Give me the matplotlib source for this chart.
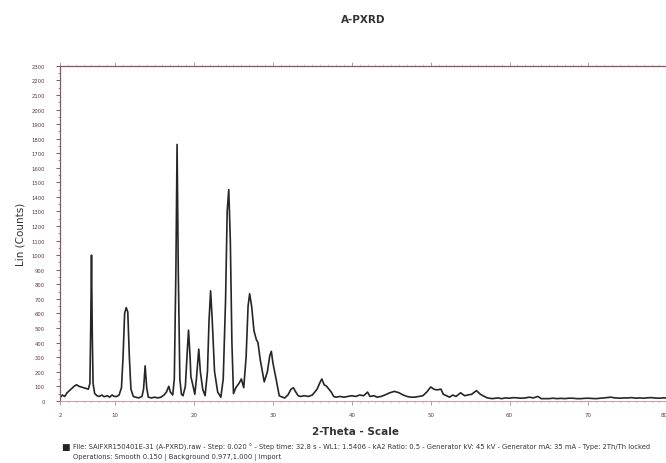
import matplotlib.pyplot as plt
from matplotlib.ticker import MultipleLocator

# diffractogram trace, 2-theta (deg) vs intensity (counts)
two_theta = [
    3.0, 3.3, 3.6, 3.9, 4.2, 4.5, 4.8, 5.1, 5.4, 5.7, 6.0, 6.3, 6.6,
    6.8, 6.9, 7.0, 7.1, 7.2, 7.4,
    7.7, 8.0, 8.3, 8.6, 9.0, 9.3, 9.6, 9.9, 10.2, 10.5,
    10.8, 11.0, 11.2, 11.4, 11.6, 11.8, 12.0, 12.3,
    12.6, 13.0, 13.4,
    13.6, 13.8, 14.0, 14.2,
    14.6, 15.0, 15.4, 15.8, 16.2,
    16.5, 16.8, 17.0, 17.3,
    17.5, 17.7, 17.85, 18.0, 18.2, 18.4, 18.6,
    18.9, 19.1, 19.3, 19.5, 19.6, 19.8, 20.1,
    20.3, 20.6, 20.8, 21.1, 21.4,
    21.7, 21.9, 22.1, 22.3, 22.6, 23.0, 23.4,
    23.7, 24.0, 24.2, 24.4, 24.6, 24.8, 25.0,
    25.3, 25.7, 26.0, 26.3,
    26.6, 26.85, 27.05, 27.3, 27.6, 27.9, 28.1, 28.4, 28.9,
    29.3, 29.6, 29.8, 30.0, 30.4, 30.8, 31.2, 31.5,
    31.9, 32.3, 32.6, 32.9, 33.2, 33.5, 34.0, 34.5, 35.0,
    35.6, 36.0, 36.2, 36.5, 36.8, 37.1, 37.4, 37.7,
    38.0, 38.5, 39.0, 39.5, 40.0, 40.5, 41.0, 41.5, 42.0, 42.3,
    42.8, 43.2, 43.7, 44.2, 44.8, 45.4, 46.0, 46.5, 47.0, 47.5,
    48.0, 48.5, 49.0, 49.5, 50.0, 50.4, 50.8, 51.3, 51.6, 52.0,
    52.4, 52.8, 53.2, 53.8, 54.3, 54.7, 55.2, 55.8, 56.3, 56.8,
    57.2, 57.8, 58.5, 59.0, 59.5, 60.0, 60.5, 61.0, 61.5, 62.0,
    62.5, 63.0, 63.6, 64.0, 64.5, 65.0, 65.5, 66.0, 66.5, 67.0,
    67.5, 68.0, 68.5, 69.0, 69.5, 70.0, 70.5, 71.0, 71.5, 72.0,
    72.8, 73.4, 74.0, 74.5, 75.0, 75.5, 76.0, 76.5, 77.0, 77.5,
    78.0, 78.5, 79.0, 79.5, 80.0,
]
counts = [
    20, 40, 30, 55, 70, 85, 100, 110, 100, 95, 90, 85, 80,
    120, 500, 1000, 450, 120, 50,
    35, 30, 40, 28, 35, 25, 40, 30, 30, 40,
    90, 300, 600, 640, 610, 300, 80, 30,
    25, 20, 30,
    80, 240, 90, 25,
    20, 25, 20, 25, 40,
    60, 100, 60, 40,
    150, 900, 1760, 900, 150, 45, 35,
    100, 300, 485, 300, 165, 120, 45,
    150, 355, 200, 80, 35,
    200, 550, 755, 560, 200, 60, 25,
    150, 700, 1300, 1450, 1100, 400, 50,
    90, 120, 150, 90,
    300, 650, 735, 650, 480, 420, 400, 280, 130,
    200, 310, 340, 260, 150, 35, 25, 20,
    40, 80, 90, 60, 35, 30, 35, 30, 40,
    80, 130, 150, 110, 100, 80, 60, 30,
    25, 30, 25, 30, 35, 30, 40, 35, 60, 30,
    35, 25, 30, 40, 55, 65, 55, 40, 30, 25,
    25, 30, 35, 60, 95, 80, 75, 80, 45, 35,
    25, 40, 30, 55, 35, 40, 45, 70, 45, 30,
    20, 15, 20, 15, 20, 18, 22, 20, 18, 20,
    25, 20, 30, 15, 15, 15, 18, 15, 17, 15,
    18, 18, 15, 15, 17, 18, 16, 15, 18, 20,
    25, 20, 18, 20, 20, 22, 18, 20, 18, 21,
    22, 19, 18, 20, 20,
]

x_ticks = [3, 10, 20, 30, 40, 50, 60, 70, 80]
x_tick_labels = ["2", "10", "20", "30", "40", "50", "60", "70", "80"]

footer_1 = ("File: SAIFXR150401E-31 (A-PXRD).raw - Step: 0.020 \u00b0 - Step time: 32.8 s - "
            "WL1: 1.5406 - kA2 Ratio: 0.5 - Generator kV: 45 kV - Generator mA: 35 mA - "
            "Type: 2Th/Th locked")
footer_2 = "Operations: Smooth 0.150 | Background 0.977,1.000 | Import"

axis_col = "#8a5566"
label_col = "#5a3a44"

fig = plt.figure(figsize=(6.66, 4.64), dpi=100)
ax = fig.add_axes([0.090, 0.134, 0.912, 0.722])

ax.plot(two_theta, counts, color="#262626", linewidth=1.2)

ax.set_xlim(3, 80)
ax.set_ylim(0, 2300)

ax.set_yticks(range(0, 2301, 100))
ax.yaxis.set_minor_locator(MultipleLocator(50))
ax.set_xticks(x_ticks)
ax.set_xticklabels(x_tick_labels)
ax.xaxis.set_minor_locator(MultipleLocator(1))
# last label sits on the figure edge
ax.get_xticklabels()[-1].set_horizontalalignment("right")

ax.tick_params(axis="y", which="major", direction="out", length=3, width=0.7,
               colors=axis_col, labelsize=3.8, labelcolor=label_col, pad=8)
ax.tick_params(axis="y", which="minor", direction="out", length=1.5, width=0.5,
               colors=axis_col)
ax.tick_params(axis="x", which="major", direction="out", length=3, width=0.6,
               colors="#b08890", labelsize=4, labelcolor=label_col, pad=5)
ax.tick_params(axis="x", which="minor", direction="out", length=1.5, width=0.4,
               colors="#c8a8b0")
ax.tick_params(axis="x", which="both", top=True)

for side in ["left", "top"]:
    ax.spines[side].set_color(axis_col)
    ax.spines[side].set_linewidth(0.9)
ax.spines["bottom"].set_color("#c9a0a8")
ax.spines["bottom"].set_linewidth(0.8)
ax.spines["right"].set_visible(False)

ax.set_ylabel("Lin (Counts)", fontsize=7.5, color="#333333", labelpad=4)
ax.set_xlabel("2-Theta - Scale", fontsize=7.5, color="#333333", labelpad=4,
              fontweight="bold")
ax.xaxis.set_label_coords(0.487, -0.075)

fig.text(0.545, 0.956, "A-PXRD", ha="center", va="center", fontsize=7.5,
         color="#333333", fontweight="bold")

fig.text(0.092, 0.036, "\u25a0", ha="left", va="center", fontsize=6.5, color="#222222")
fig.text(0.109, 0.036, footer_1, ha="left", va="center", fontsize=4.85, color="#333333")
fig.text(0.109, 0.015, footer_2, ha="left", va="center", fontsize=4.85, color="#333333")

fig.savefig("out.png", dpi=100, facecolor="white")
